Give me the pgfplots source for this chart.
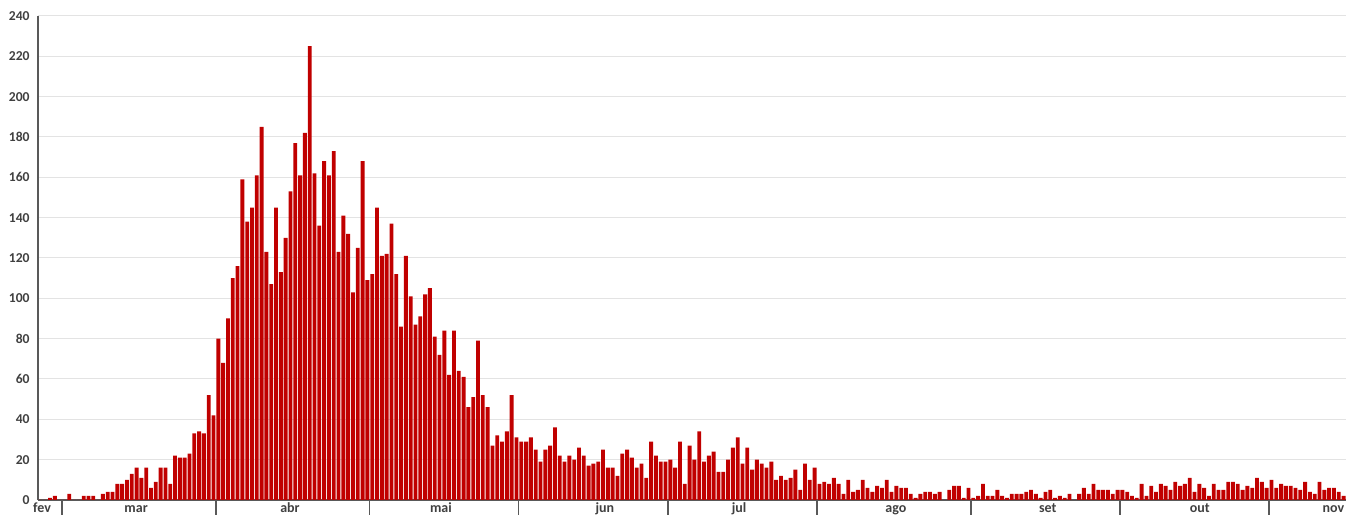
\documentclass[border=0pt]{standalone}
\usepackage{fontspec}
\setmainfont{Carlito}
\usepackage{pgfplots}
\pgfplotsset{compat=1.18}
\definecolor{barred}{HTML}{C00000}
\definecolor{txtgray}{HTML}{404040}
\definecolor{gridgray}{HTML}{E3E3E3}
\definecolor{axgray}{HTML}{595959}
\begin{document}
\begin{tikzpicture}
\begin{axis}[
  at={(0,0)}, anchor=south west,
  scale only axis,
  width=654pt, height=242pt,
  xmin=-0.5, xmax=271.5,
  ymin=0, ymax=240,
  ytick={0,20,...,240},
  ymajorgrids, grid style={gridgray, line width=0.5pt},
  axis x line*=bottom, axis y line*=left,
  axis line style={axgray, line width=0.6pt},
  ytick style={draw=none},
  y tick label style={font=\bfseries\fontsize{6.8}{8}\selectfont, text=txtgray, inner sep=0pt, xshift=-4pt},
  /pgf/number format/assume math mode=true,
  xtick={0.33,19.9,51.9,83.3,117.4,145.3,177.9,209.5,241.1,268.9},
  xticklabels={fev,mar,abr,mai,jun,jul,ago,set,out,nov},
  x tick label style={font=\bfseries\fontsize{7}{8}\selectfont, text=txtgray, anchor=base, inner sep=0pt, yshift=-6.3pt},
  major tick length=0pt,
  extra x ticks={4.5,36.5,68.5,99.5,130.5,161.5,193.5,224.5,255.5},
  extra x tick labels={},
  extra x tick style={tick align=outside, major tick length=7.5pt, tick style={axgray, line width=0.6pt}, grid=none},
  clip=false,
]
\addplot[ybar, bar width=0.8, fill=barred, draw=none] coordinates {
(0,0)(1,0)(2,1)(3,2)(4,0)(5,0)(6,3)(7,0)(8,0)(9,2)(10,2)(11,2)(12,0)(13,3)(14,4)(15,4)(16,8)(17,8)(18,10)(19,13)(20,16)(21,11)(22,16)(23,6)(24,9)(25,16)(26,16)(27,8)(28,22)(29,21)(30,21)(31,23)(32,33)(33,34)(34,33)(35,52)(36,42)
(37,80)(38,68)(39,90)(40,110)(41,116)(42,159)(43,138)(44,145)(45,161)(46,185)(47,123)(48,107)(49,145)(50,113)(51,130)(52,153)(53,177)(54,161)(55,182)(56,225)(57,162)(58,136)(59,168)(60,161)(61,173)(62,123)(63,141)(64,132)(65,103)(66,125)(67,168)(68,109)
(69,112)(70,145)(71,121)(72,122)(73,137)(74,112)(75,86)(76,121)(77,101)(78,87)(79,91)(80,102)(81,105)(82,81)(83,72)(84,84)(85,62)(86,84)(87,64)(88,61)(89,46)(90,51)(91,79)(92,52)(93,46)(94,27)(95,32)(96,29)(97,34)(98,52)(99,31)
(100,29)(101,29)(102,31)(103,25)(104,19)(105,25)(106,27)(107,36)(108,22)(109,19)(110,22)(111,20)(112,26)(113,22)(114,17)(115,18)(116,19)(117,25)(118,16)(119,16)(120,12)(121,23)(122,25)(123,21)(124,16)(125,18)(126,11)(127,29)(128,22)(129,19)(130,19)
(131,20)(132,16)(133,29)(134,8)(135,27)(136,20)(137,34)(138,19)(139,22)(140,24)(141,14)(142,14)(143,20)(144,26)(145,31)(146,18)(147,26)(148,15)(149,20)(150,18)(151,16)(152,19)(153,10)(154,12)(155,10)(156,11)(157,15)(158,5)(159,18)(160,10)(161,16)
(162,8)(163,9)(164,8)(165,11)(166,8)(167,3)(168,10)(169,4)(170,5)(171,10)(172,6)(173,4)(174,7)(175,6)(176,10)(177,4)(178,7)(179,6)(180,6)(181,3)(182,1)(183,3)(184,4)(185,4)(186,3)(187,4)(188,0)(189,5)(190,7)(191,7)(192,1)(193,6)
(194,1)(195,2)(196,8)(197,2)(198,2)(199,5)(200,2)(201,1)(202,3)(203,3)(204,3)(205,4)(206,5)(207,3)(208,1)(209,4)(210,5)(211,1)(212,2)(213,1)(214,3)(215,0)(216,3)(217,6)(218,3)(219,8)(220,5)(221,5)(222,5)(223,3)(224,5)
(225,5)(226,4)(227,2)(228,1)(229,8)(230,2)(231,7)(232,4)(233,8)(234,7)(235,5)(236,9)(237,7)(238,8)(239,11)(240,4)(241,8)(242,6)(243,2)(244,8)(245,5)(246,5)(247,9)(248,9)(249,8)(250,5)(251,7)(252,6)(253,11)(254,9)(255,6)
(256,10)(257,6)(258,8)(259,7)(260,7)(261,6)(262,5)(263,9)(264,4)(265,3)(266,9)(267,5)(268,6)(269,6)(270,4)(271,2)
};
\end{axis}
\pgfresetboundingbox
\useasboundingbox (-19pt,-8.5pt) rectangle (654pt,250pt);
\end{tikzpicture}
\end{document}
